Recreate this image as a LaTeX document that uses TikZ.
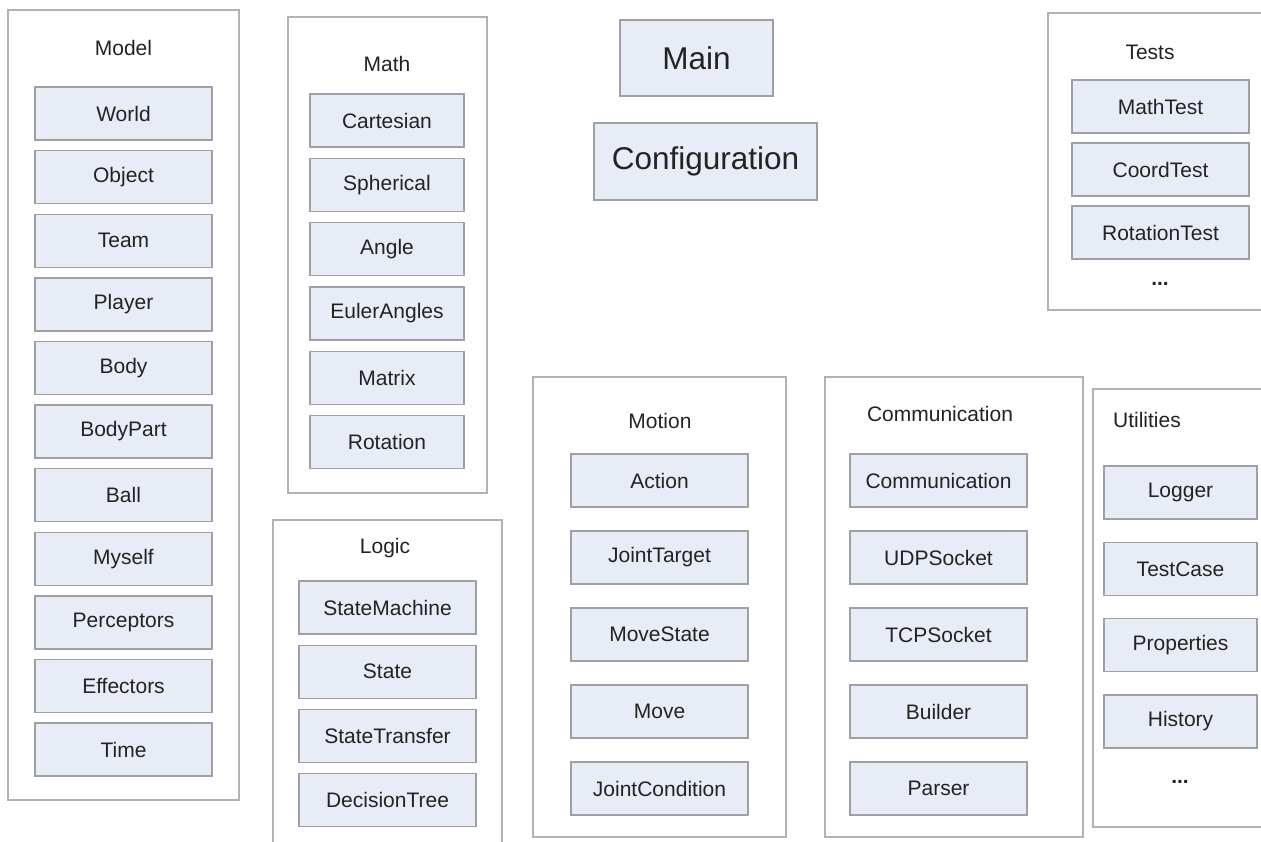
\documentclass[tikz,border=0pt]{standalone}
\usepackage{fontspec}
\setmainfont{Liberation Sans}
\usetikzlibrary{positioning}
\definecolor{itemfill}{RGB}{232,236,246}
\definecolor{itemline}{RGB}{158,160,166}
\definecolor{groupline}{RGB}{178,178,178}
\definecolor{labeltext}{RGB}{35,35,35}

\begin{document}
\begin{tikzpicture}[x=1pt, y=-1pt,
  group/.style={draw=groupline, line width=1.3pt, fill=white, inner sep=0pt},
  item/.style={draw=itemline, line width=1.4pt, fill=itemfill, inner sep=0pt,
    minimum height=53, text=labeltext, font=\fontsize{21}{25}\selectfont},
  title/.style={text=labeltext, inner sep=0pt, font=\fontsize{21}{25}\selectfont},
  bigitem/.style={item, font=\fontsize{31.5}{36}\selectfont}]

\useasboundingbox (0,0) rectangle (1261,841);
\clip (0,0) rectangle (1261,841);

% package frames
\node [group, minimum width=231, minimum height=790] (model) at (123.5,405) {};
\node [group, minimum width=199, minimum height=476] (math) at (387.5,255) {};
\node [group, minimum width=229, minimum height=350] (logic) at (387.5,695) {};
\node [group, minimum width=253, minimum height=460] (motion) at (659.5,607) {};
\node [group, minimum width=258, minimum height=460] (comm) at (954,607) {};
\node [group, minimum width=220, minimum height=438] (util) at (1203,608) {};
\node [group, minimum width=260, minimum height=297] (tests) at (1178,161.5) {};

% titles
\node [title] (model-title) at (123.5,48) {Model};
\node [title] (math-title) at (387,64) {Math};
\node [title] (logic-title) at (385,548) {Logic};
\node [title] (motion-title) at (660,421) {Motion};
\node [title] (comm-title) at (940,414) {Communication};
\node [title] (util-title) at (1147,420) {Utilities};
\node [title] (tests-title) at (1150,52) {Tests};

% classes
\foreach \l [count=\i] in {World,Object,Team,Player,Body,BodyPart,Ball,Myself,Perceptors,Effectors,Time}
  \node [item, minimum width=177] (model-\i) at (123.5, 49.9+\i*63.6) {\l};

\foreach \l [count=\i] in {Cartesian,Spherical,Angle,EulerAngles,Matrix,Rotation}
  \node [item, minimum width=154] (math-\i) at (387, 56.2+\i*64.3) {\l};

\foreach \l [count=\i] in {StateMachine,State,StateTransfer,DecisionTree}
  \node [item, minimum width=177] (logic-\i) at (387.5, 543.3+\i*64.2) {\l};

\foreach \l [count=\i] in {Action,JointTarget,MoveState,Move,JointCondition}
  \node [item, minimum width=177] (motion-\i) at (659.5, 403.5+\i*77) {\l};

\foreach \l [count=\i] in {Communication,UDPSocket,TCPSocket,Builder,Parser}
  \node [item, minimum width=177] (comm-\i) at (938.5, 403.5+\i*77) {\l};

\foreach \l [count=\i] in {Logger,TestCase,Properties,History}
  \node [item, minimum width=153] (util-\i) at (1180.5, 416.2+\i*76.3) {\l};

\foreach \l [count=\i] in {MathTest,CoordTest,RotationTest}
  \node [item, minimum width=177] (tests-\i) at (1160.5, 43.5+\i*63) {\l};

\node [title] (util-more) at (1180,782) {\textbf{...}};
\node [title] (tests-more) at (1160,284) {\textbf{...}};

% top level
\node [bigitem, minimum width=153, minimum height=76] (main) at (696.5,58) {Main};
\node [bigitem, minimum width=223, minimum height=77] (config) at (705.5,161.5) {Configuration};
\end{tikzpicture}
\end{document}
